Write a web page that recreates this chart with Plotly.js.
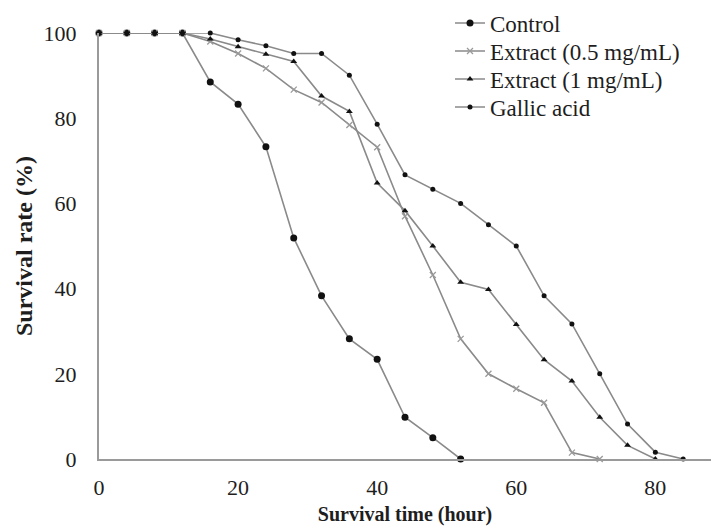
<!DOCTYPE html>
<html>
<head>
<meta charset="utf-8">
<script src="https://cdn.plot.ly/plotly-3.0.1.min.js"></script>
<style>html,body{margin:0;padding:0;background:#fff;}#chart{width:711px;height:526px;}</style>
</head>
<body>
<div id="chart"></div>
<script>
// Survival time (hour)
const timeControl = [0, 4, 8, 12, 16, 20, 24, 28, 32, 36, 40, 44, 48, 52];
const control = [100, 100, 100, 100, 88.5, 83.3, 73.3, 51.9, 38.3, 28.2, 23.4, 9.8, 5, 0];

const timeExt05 = [0, 4, 8, 12, 16, 20, 24, 28, 32, 36, 40, 44, 48, 52, 56, 60, 64, 68, 72];
const extract05 = [100, 100, 100, 100, 98, 95.2, 91.7, 86.7, 83.7, 78.4, 73.2, 57, 43.2, 28.2, 20, 16.5, 13.2, 1.5, 0];

const timeExt1 = [0, 4, 8, 12, 16, 20, 24, 28, 32, 36, 40, 44, 48, 52, 56, 60, 64, 68, 72, 76, 80];
const extract1 = [100, 100, 100, 100, 98.6, 96.8, 95, 93.3, 85.2, 81.6, 64.8, 58.3, 50, 41.5, 39.8, 31.6, 23.3, 18.3, 9.8, 3.2, 0];

const timeGallic = [0, 4, 8, 12, 16, 20, 24, 28, 32, 36, 40, 44, 48, 52, 56, 60, 64, 68, 72, 76, 80, 84];
const gallic = [100, 100, 100, 100, 100, 98.4, 97, 95.2, 95.2, 90.1, 78.6, 66.7, 63.3, 60, 55, 50, 38.3, 31.7, 20, 8.2, 1.6, 0];

const seriesNames = ["Control", "Extract (0.5 mg/mL)", "Extract (1 mg/mL)", "Gallic acid"];
const xTicks = [0, 20, 40, 60, 80];
const yTicks = [0, 20, 40, 60, 80, 100];

const lineColor = "#8a8a8a";
const serif = "Liberation Serif";
const txt = "#1e1e1e";

function tr(x, y, name, sym, size, mcolor, lw, leg) {
  return {
    x: x, y: y, name: name, type: "scatter", mode: "lines+markers",
    cliponaxis: false, legend: leg,
    line: {color: lineColor, width: 1.6},
    marker: {symbol: sym, size: size, color: mcolor, line: {color: mcolor, width: lw}}
  };
}

const data = [
  tr(timeControl, control, seriesNames[0], "circle", 7, "#111", 0, "legend"),
  tr(timeExt05, extract05, seriesNames[1], "x-thin-open", 6, "#9a9a9a", 1.3, "legend2"),
  tr(timeExt1, extract1, seriesNames[2], "triangle-up", 6, "#111", 0, "legend3"),
  tr(timeGallic, gallic, seriesNames[3], "circle", 5, "#111", 0, "legend4")
];

const plotTop = 33, plotBottom = 459;
function leg(rowPx) {
  return {
    x: (450 - 99) / 612, xref: "paper",
    y: (plotBottom - rowPx) / (plotBottom - plotTop), yanchor: "middle",
    bgcolor: "rgba(0,0,0,0)", font: {family: serif, size: 23, color: txt},
    itemwidth: 30
  };
}

const layout = {
  width: 711, height: 526,
  margin: {l: 99, r: 0, t: 33, b: 67},
  paper_bgcolor: "#fff", plot_bgcolor: "#fff",
  font: {family: serif, size: 22, color: txt},
  showlegend: true,
  legend: leg(23), legend2: leg(51), legend3: leg(79), legend4: leg(107),
  xaxis: {
    range: [0, 88], tickvals: xTicks, ticktext: xTicks.map(String),
    showgrid: false, zeroline: false, showline: true, linecolor: "#9a9a9a", linewidth: 2,
    ticks: "outside", ticklen: 8, tickcolor: "rgba(0,0,0,0)",
    tickfont: {family: serif, size: 22, color: txt},
    title: {text: "<b>Survival time (hour)</b>", font: {family: serif, size: 20, color: txt}, standoff: 12}
  },
  yaxis: {
    range: [0, 100], tickvals: yTicks, ticktext: yTicks.map(String),
    showgrid: false, zeroline: false, showline: true, linecolor: "#9a9a9a", linewidth: 2,
    ticks: "outside", ticklen: 16, tickcolor: "rgba(0,0,0,0)",
    tickfont: {family: serif, size: 22, color: txt},
    title: {text: "<b>Survival rate (%)</b>", font: {family: serif, size: 24, color: txt}, standoff: 4}
  }
};

Plotly.newPlot("chart", data, layout, {displayModeBar: false, staticPlot: true});
</script>
</body>
</html>
